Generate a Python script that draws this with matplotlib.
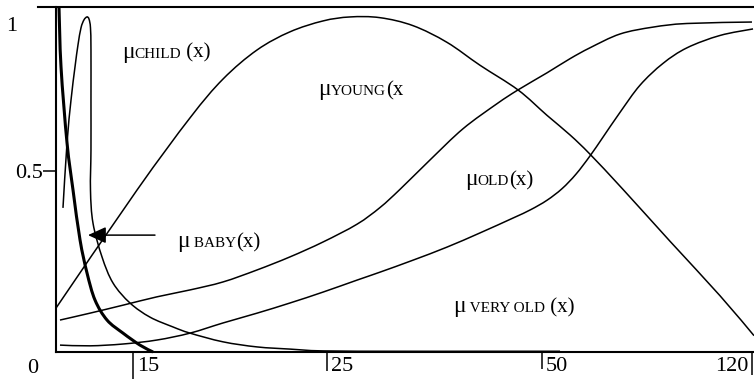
import matplotlib
matplotlib.use('Agg')
import matplotlib.pyplot as plt
import numpy as np
from matplotlib.path import Path
from matplotlib.patches import PathPatch

plt.rcParams['font.family'] = ['Liberation Serif', 'DejaVu Serif']

# x = position along the drawn axis (0..100 %), y = membership degree
baby_x = [0.43, 0.72, 1.58, 2.44, 3.44, 4.44, 5.59, 7.31, 9.60, 12.03, 13.90]
baby_y = [0.95, 0.785, 0.576, 0.446, 0.309, 0.218, 0.143, 0.088, 0.052, 0.019, 0.0]

child_x = [1.00, 1.58, 2.15, 2.72, 3.15, 3.58, 4.01, 4.44, 4.73, 4.94, 5.01, 5.01,
           5.01, 4.94, 5.30, 6.59, 8.17, 10.60, 13.47, 16.76, 19.20, 23.93, 28.80,
           33.52, 38.25, 49.28, 60.74, 72.21]
child_y = [0.397, 0.576, 0.694, 0.785, 0.846, 0.893, 0.915, 0.923, 0.917, 0.893, 0.832, 0.694,
           0.556, 0.446, 0.355, 0.262, 0.190, 0.135, 0.096, 0.069, 0.052, 0.028, 0.014,
           0.008, 0.003, 0.002, 0.002, 0.002]

young_x = [0, 11.60, 19.20, 23.93, 28.80, 33.52, 38.25, 42.12, 46.42, 51.15,
           56.02, 60.74, 66.19, 70.34, 73.64, 76.50, 81.23, 87.97, 95.13, 100]
young_y = [0.121, 0.446, 0.645, 0.752, 0.832, 0.882, 0.912, 0.923, 0.921, 0.899,
           0.853, 0.790, 0.722, 0.652, 0.598, 0.545, 0.448, 0.305, 0.155, 0.045]

old_x = [0.57, 4.87, 9.60, 14.47, 19.20, 23.93, 28.80, 33.52, 38.25, 43.12, 46.42, 49.28,
         53.58, 58.31, 63.18, 66.19, 70.34, 73.64, 76.50, 80.80, 85.53, 90.40, 99.71]
old_y = [0.088, 0.107, 0.129, 0.152, 0.171, 0.193, 0.226, 0.262, 0.303, 0.352, 0.398, 0.448,
         0.529, 0.615, 0.684, 0.722, 0.769, 0.808, 0.838, 0.876, 0.895, 0.905, 0.909]

vold_x = [0.57, 4.87, 9.60, 14.47, 19.20, 23.93, 28.80, 33.52, 38.25, 43.12, 46.42, 51.15,
          56.02, 60.74, 65.47, 68.00, 70.34, 72.50, 74.50, 76.50, 78.37, 80.80, 83.67,
          86.96, 90.40, 95.13, 99.86]
vold_y = [0.019, 0.017, 0.022, 0.033, 0.052, 0.080, 0.107, 0.135, 0.165, 0.198, 0.220, 0.253,
          0.289, 0.328, 0.369, 0.392, 0.418, 0.450, 0.490, 0.540, 0.592, 0.660, 0.735,
          0.795, 0.838, 0.872, 0.890]

tick_pos = [11.03, 38.83, 69.63, 99.71]
tick_labels = ['15', '25', '50', '120']
tick_len = [19.4, 13.7, 12.2, 16.6]

# curve labels: x of mu, baseline y, subscript, tail
labels = [
    (9.46, 0.810, 'CHILD', ' (x)'),
    (37.54, 0.708, 'YOUNG', '(x'),
    (58.60, 0.460, 'OLD', '(x)'),
    (17.34, 0.289, ' BABY', '(x)'),
    (56.88, 0.110, ' VERY OLD', ' (x)'),
]


def smooth(xs, ys):
    # curve through the points (Catmull-Rom as cubic Bezier)
    p = np.column_stack([xs, ys])
    n = len(p)
    verts = [p[0]]
    codes = [Path.MOVETO]
    for i in range(n - 1):
        p0, p1, p2, p3 = p[max(i - 1, 0)], p[i], p[i + 1], p[min(i + 2, n - 1)]
        verts += [p1 + (p2 - p0) / 6, p2 - (p3 - p1) / 6, p2]
        codes += [Path.CURVE4] * 3
    return Path(verts, codes)


fig = plt.figure(figsize=(7.54, 3.81), dpi=100)
ax = fig.add_axes([56 / 754, 29 / 381, 698 / 754, 345 / 381])
ytop = 345 / 363
ax.set_xlim(0, 100)
ax.set_ylim(0, ytop)

for xs, ys, w in [(baby_x, baby_y, 2.2), (child_x, child_y, 1.1), (young_x, young_y, 1.1),
                  (old_x, old_y, 1.1), (vold_x, vold_y, 1.1)]:
    ax.add_patch(PathPatch(smooth(xs, ys), fill=False, edgecolor='black', lw=w,
                           clip_on=False))

ax.annotate('', xy=(4.58, 0.322), xytext=(14.18, 0.322),
            arrowprops=dict(arrowstyle='-|>,head_length=0.55,head_width=0.25',
                            mutation_scale=20, lw=1.1, color='black',
                            shrinkA=0, shrinkB=0))

for s in ['top', 'right']:
    ax.spines[s].set_visible(False)
for s in ['left', 'bottom']:
    ax.spines[s].set_linewidth(1.5)
ax.plot([-2.58, 100], [ytop, ytop], color='black', lw=1.5, clip_on=False)

ax.set_xticks(tick_pos)
ax.set_xticklabels([])
ax.tick_params(axis='x', direction='out', width=1.1)
for t, ln in zip(ax.xaxis.get_major_ticks(), tick_len):
    t.tick1line.set_markersize(ln)
for p, lab in zip(tick_pos, tick_labels):
    if lab == '120':
        ax.text(p - 0.5, -0.015, lab, ha='right', va='top', fontsize=16)
    else:
        ax.text(p + 0.55, -0.015, lab, ha='left', va='top', fontsize=16)

ax.set_yticks([0.5])
ax.set_yticklabels(['0.5'], fontsize=16)
ax.tick_params(axis='y', direction='out', length=9.4, width=1.1, pad=0)
ax.text(-3.3, -0.045, '0', ha='center', va='center', fontsize=16)
ax.text(-6.4, 0.898, '1', ha='center', va='center', fontsize=16)

renderer = fig.canvas.get_renderer()
inv = ax.transData.inverted()
for xm, yb, sub, tail in labels:
    x = xm
    for s, fs in [('\u03bc', 17), (sub, 11), (tail, 15)]:
        t = ax.text(x, yb, s, fontsize=fs, va='baseline', ha='left')
        x1 = t.get_window_extent(renderer=renderer).x1
        x = inv.transform((x1, 0))[0]

fig.savefig('out.png', dpi=100)
